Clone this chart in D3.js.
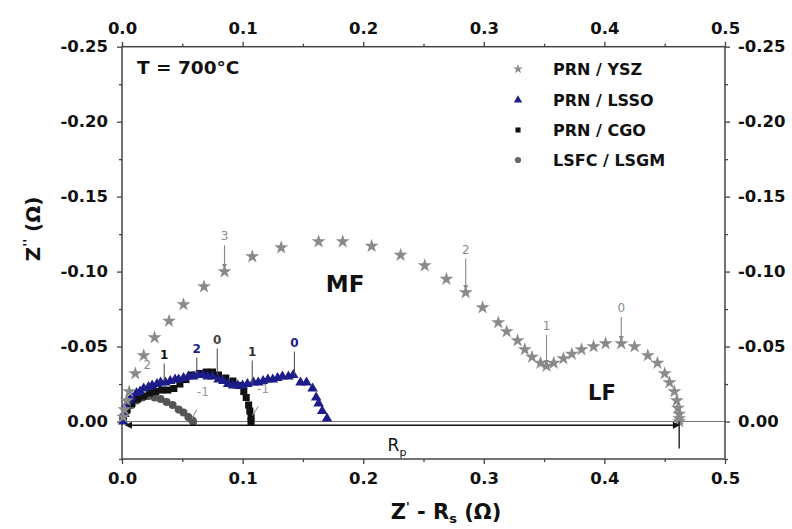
<!DOCTYPE html>
<html><head><meta charset="utf-8">
<script src="https://cdn.jsdelivr.net/npm/d3@7"></script>
<style>
html,body{margin:0;padding:0;background:#fff;}
svg text{font-family:"DejaVu Sans",Arial,sans-serif;}
</style></head>
<body><svg id="c" width="792" height="529"></svg>
<script>
// ---------- data ----------
const seriesNames = ["PRN / YSZ", "PRN / LSSO", "PRN / CGO", "LSFC / LSGM"];
const xTickValues = [0, 0.1, 0.2, 0.3, 0.4, 0.5];
const yTickValues = [0, -0.05, -0.10, -0.15, -0.20, -0.25];
const temperatureLabel = "T = 700°C";

// PRN / YSZ  [Z'-Rs, Z'']
const ysz = [[0.001,-0.003],[0.002,-0.008],[0.004,-0.014],[0.006,-0.020],[0.011,-0.032],[0.018,-0.044],
 [0.027,-0.056],[0.039,-0.067],[0.051,-0.078],[0.068,-0.090],[0.085,-0.100],[0.108,-0.110],[0.132,-0.116],
 [0.163,-0.120],[0.183,-0.120],[0.207,-0.117],[0.231,-0.111],[0.251,-0.104],[0.269,-0.095],[0.285,-0.086],
 [0.299,-0.076],[0.312,-0.066],[0.319,-0.060],[0.328,-0.054],[0.334,-0.048],[0.340,-0.043],[0.347,-0.039],
 [0.352,-0.037],[0.358,-0.039],[0.366,-0.042],[0.373,-0.045],[0.381,-0.048],[0.391,-0.050],[0.401,-0.052],
 [0.414,-0.052],[0.425,-0.050],[0.436,-0.044],[0.444,-0.039],[0.450,-0.032],[0.454,-0.026],[0.458,-0.020],
 [0.460,-0.014],[0.461,-0.009],[0.462,-0.005],[0.462,-0.002],[0.462,0.000]];

// PRN / LSSO
const lsso = [[0.001,0.000],[0.002,-0.005],[0.003,-0.010],[0.006,-0.014],[0.008,-0.016],[0.012,-0.019],
 [0.015,-0.020],[0.018,-0.022],[0.022,-0.023],[0.025,-0.024],[0.029,-0.025],[0.032,-0.026],[0.036,-0.026],
 [0.040,-0.027],[0.044,-0.028],[0.047,-0.028],[0.051,-0.029],[0.055,-0.030],[0.059,-0.030],[0.063,-0.031],
 [0.067,-0.031],[0.071,-0.030],[0.075,-0.030],[0.080,-0.028],[0.084,-0.027],[0.088,-0.025],[0.092,-0.024],
 [0.096,-0.024],[0.100,-0.024],[0.104,-0.025],[0.109,-0.026],[0.113,-0.026],[0.117,-0.027],[0.121,-0.028],
 [0.125,-0.028],[0.129,-0.029],[0.133,-0.030],[0.138,-0.030],[0.142,-0.031],[0.148,-0.026],[0.153,-0.026],
 [0.158,-0.022],[0.161,-0.016],[0.163,-0.012],[0.166,-0.007],[0.170,-0.002]];

// PRN / CGO
const cgo = [[0.001,-0.003],[0.004,-0.008],[0.008,-0.012],[0.013,-0.015],[0.018,-0.017],[0.023,-0.019],
 [0.028,-0.020],[0.033,-0.021],[0.038,-0.021],[0.043,-0.022],[0.048,-0.025],[0.053,-0.028],[0.058,-0.031],
 [0.064,-0.032],[0.070,-0.033],[0.075,-0.033],[0.080,-0.031],[0.086,-0.029],[0.092,-0.027],[0.097,-0.024],
 [0.101,-0.020],[0.103,-0.016],[0.105,-0.011],[0.106,-0.007],[0.107,-0.003],[0.107,0.000]];

// LSFC / LSGM
const lsgm = [[0.001,-0.002],[0.004,-0.007],[0.008,-0.011],[0.012,-0.014],[0.017,-0.016],[0.022,-0.017],
 [0.027,-0.016],[0.032,-0.015],[0.037,-0.013],[0.042,-0.011],[0.047,-0.008],[0.051,-0.006],[0.055,-0.003],
 [0.058,-0.001],[0.059,0.000]];

// frequency-decade labels: text, label x, label y, line end y
const freqLabels = [
 ["3",0.085,-0.121,-0.102,"#8a8a8a"],["2",0.285,-0.112,-0.088,"#8a8a8a"],
 ["1",0.352,-0.061,-0.038,"#8a8a8a"],["0",0.414,-0.073,-0.054,"#8a8a8a"],
 ["2",0.021,-0.035,null,"#8a8a8a"],
 ["2",0.062,-0.046,-0.032,"#1c1c8a"],["0",0.143,-0.050,-0.031,"#1c1c8a"],
 ["1",0.108,-0.044,-0.025,"#333"],
 ["1",0.035,-0.042,-0.027,"#111"],["0",0.079,-0.052,-0.031,"#444"]
];
const minusOneLabels = [[0.067,-0.017,0.062,-0.008,0.058,-0.002],[0.117,-0.019,0.113,-0.010,0.108,-0.004]];
const rpValue = 0.462;

// ---------- drawing ----------
const svg = d3.select("#c");
const X0 = 122, X1 = 725, YT = 46.7, YB = 459;
const x = d3.scaleLinear().domain([0, 0.5]).range([X0, X1]);
const y = d3.scaleLinear().domain([-0.25, 0.025]).range([YT, YB]);
const fmtY = d => d3.format(".2f")(d).replace("\u2212","-");
const fmtX = d => d3.format(".1f")(d);

const defs = svg.append("defs");
defs.append("marker").attr("id","ah").attr("viewBox","0 0 10 10").attr("refX",9).attr("refY",5)
 .attr("markerWidth",9).attr("markerHeight",7).attr("markerUnits","userSpaceOnUse").attr("orient","auto-start-reverse")
 .append("path").attr("d","M0,0L10,5L0,10z").attr("fill","#111");
defs.append("marker").attr("id","sa").attr("viewBox","0 0 10 10").attr("refX",9).attr("refY",5)
 .attr("markerWidth",5).attr("markerHeight",5).attr("markerUnits","userSpaceOnUse").attr("orient","auto")
 .append("path").attr("d","M0,0L10,5L0,10z").attr("fill","#888");

// zero line
svg.append("line").attr("x1",x(0)).attr("x2",x(0.5)).attr("y1",y(0)).attr("y2",y(0))
 .attr("stroke","#777").attr("stroke-width",1.2);

const axisColor = "#444";
function styleAxis(g){
  g.select(".domain").remove();
  g.selectAll(".tick line").attr("stroke",axisColor).attr("stroke-width",1.3);
  g.selectAll("text").attr("font-size",16.5).attr("font-weight","bold").attr("fill","#111");
}
const xMinor = [0.05,0.15,0.25,0.35,0.45];
const yMinor = [0.025,-0.025,-0.075,-0.125,-0.175,-0.225];

svg.append("g").attr("transform",`translate(0,${YB})`)
 .call(d3.axisBottom(x).tickValues(xTickValues).tickFormat(fmtX).tickSize(5).tickPadding(8)).call(styleAxis);
svg.append("g").attr("transform",`translate(0,${YT})`)
 .call(d3.axisTop(x).tickValues(xTickValues).tickFormat(fmtX).tickSize(5).tickPadding(8)).call(styleAxis);
svg.append("g").attr("transform",`translate(${X0},0)`)
 .call(d3.axisLeft(y).tickValues(yTickValues).tickFormat(fmtY).tickSize(5).tickPadding(9)).call(styleAxis);
svg.append("g").attr("transform",`translate(${X1},0)`)
 .call(d3.axisRight(y).tickValues(yTickValues).tickFormat(fmtY).tickSize(5).tickPadding(8)).call(styleAxis);
// minor ticks
svg.append("g").attr("transform",`translate(0,${YB})`).call(d3.axisBottom(x).tickValues(xMinor).tickFormat("").tickSize(3)).call(styleAxis);
svg.append("g").attr("transform",`translate(0,${YT})`).call(d3.axisTop(x).tickValues(xMinor).tickFormat("").tickSize(3)).call(styleAxis);
svg.append("g").attr("transform",`translate(${X0},0)`).call(d3.axisLeft(y).tickValues(yMinor).tickFormat("").tickSize(3)).call(styleAxis);
svg.append("g").attr("transform",`translate(${X1},0)`).call(d3.axisRight(y).tickValues(yMinor).tickFormat("").tickSize(3)).call(styleAxis);

// frame
svg.append("rect").attr("x",X0).attr("y",YT).attr("width",X1-X0).attr("height",YB-YT)
 .attr("fill","none").attr("stroke",axisColor).attr("stroke-width",1.5);

// series
const series = [
  {data: lsgm, sym: d3.symbolCircle, size: 50, color:"#555"},
  {data: cgo, sym: d3.symbolSquare, size: 50, color:"#111"},
  {data: lsso, sym: d3.symbolTriangle, size: 48, color:"#1c1c8a"},
  {data: ysz, sym: d3.symbolStar, size: 60, color:"#8a8a8a"}
];
series.forEach(s=>{
  svg.append("g").selectAll("path").data(s.data).join("path")
   .attr("transform",d=>`translate(${x(d[0])},${y(d[1])})`)
   .attr("d",d3.symbol().type(s.sym).size(s.size)).attr("fill",s.color);
});

// frequency labels
freqLabels.forEach(f=>{
  svg.append("text").attr("x",x(f[1])).attr("y",y(f[2])).attr("text-anchor","middle")
   .attr("font-size",12).attr("font-weight", f[4]==="#8a8a8a"?"normal":"bold").attr("fill",f[4]).text(f[0]);
  if(f[3]!==null){
    svg.append("line").attr("x1",x(f[1])).attr("x2",x(f[1])).attr("y1",y(f[2])+5).attr("y2",y(f[3]))
     .attr("stroke",f[4]==="#8a8a8a"?"#888":"#555").attr("stroke-width",1.1)
     .attr("marker-end", f[4]==="#8a8a8a"?"url(#sa)":null);
  }
});
minusOneLabels.forEach(m=>{
  svg.append("text").attr("x",x(m[0])).attr("y",y(m[1])).attr("text-anchor","middle")
   .attr("font-size",12).attr("fill","#999").text("-1");
  svg.append("line").attr("x1",x(m[2])).attr("y1",y(m[3])).attr("x2",x(m[4])).attr("y2",y(m[5]))
   .attr("stroke","#999").attr("stroke-width",1.1);
});

// Rp arrow
svg.append("line").attr("x1",x(0.003)).attr("x2",x(rpValue)).attr("y1",y(0.0025)).attr("y2",y(0.0025))
 .attr("stroke","#111").attr("stroke-width",1.4)
 .attr("marker-start","url(#ah)").attr("marker-end","url(#ah)");
svg.append("line").attr("x1",x(rpValue)).attr("x2",x(rpValue)).attr("y1",y(0)).attr("y2",y(0.018))
 .attr("stroke","#111").attr("stroke-width",1.3);
const rp = svg.append("text").attr("x",x(0.228)).attr("y",y(0.0197)).attr("text-anchor","middle")
 .attr("font-size",17).attr("fill","#111");
rp.append("tspan").text("R");
rp.append("tspan").attr("font-size",11).attr("dy",5).text("p");

// annotations
svg.append("text").attr("x",137).attr("y",y(-0.2315)).attr("font-size",18.5).attr("font-weight","bold").attr("fill","#111").text(temperatureLabel);
svg.append("text").attr("x",x(0.185)).attr("y",y(-0.0865)).attr("text-anchor","middle").attr("font-size",23).attr("font-weight","bold").attr("fill","#111").text("MF");
svg.append("text").attr("x",x(0.398)).attr("y",y(-0.0146)).attr("text-anchor","middle").attr("font-size",21).attr("font-weight","bold").attr("fill","#111").text("LF");

// legend
const legSyms = [[d3.symbolStar,"#8a8a8a",30],[d3.symbolTriangle,"#1c1c8a",30],[d3.symbolSquare,"#111",26],[d3.symbolCircle,"#666",30]];
const legY = [69,100,130,160];
seriesNames.forEach((n,i)=>{
  svg.append("path").attr("transform",`translate(518,${legY[i]})`)
   .attr("d",d3.symbol().type(legSyms[i][0]).size(legSyms[i][2])).attr("fill",legSyms[i][1]);
  svg.append("text").attr("x",553).attr("y",legY[i]+6).attr("font-size",16).attr("font-weight","bold").attr("fill","#111").text(n);
});

// axis titles
const xt = svg.append("text").attr("x",446).attr("y",519).attr("text-anchor","middle")
 .attr("font-size",21).attr("font-weight","bold").attr("fill","#111");
xt.append("tspan").text("Z");
xt.append("tspan").attr("font-size",12).attr("dy",-8).text("'");
xt.append("tspan").attr("dy",8).text(" - R");
xt.append("tspan").attr("font-size",13).attr("dy",4).text("s");
xt.append("tspan").attr("dy",-4).text(" (Ω)");

const yt = svg.append("text").attr("transform","translate(40,229) rotate(-90)").attr("text-anchor","middle")
 .attr("font-size",20).attr("font-weight","bold").attr("fill","#111");
yt.append("tspan").text("Z");
yt.append("tspan").attr("font-size",13).attr("dy",-8).text("''");
yt.append("tspan").attr("dy",8).text(" (Ω)");
</script></body></html>
